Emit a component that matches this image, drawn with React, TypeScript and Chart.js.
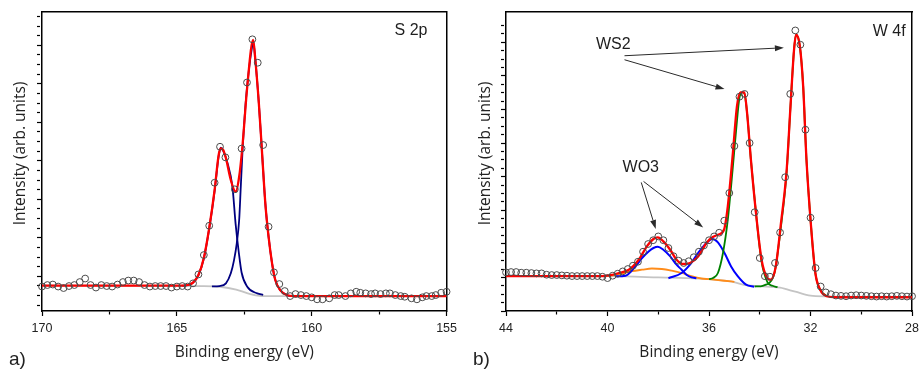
import React, { useEffect, useRef } from 'react';
import { Chart, registerables } from 'chart.js';

Chart.register(...registerables);

// ---------------- Panel a) S 2p ----------------
const aPointE = [170.0,169.8,169.6,169.4,169.2,169.0,168.8,168.6,168.4,168.2,168.0,167.8,167.6,167.4,167.2,167.0,166.8,166.6,166.4,166.2,166.0,165.8,165.6,165.4,165.2,165.0,164.8,164.6,164.4,
  164.2,164.0,163.8,163.6,163.4,163.2,162.85,162.6,162.4,162.2,162.0,161.8,161.6,161.4,161.2,161.0,
  160.8,160.6,160.4,160.2,160.0,159.8,159.6,159.35,159.15,159.0,158.75,158.55,158.35,158.2,158.0,157.8,157.65,157.45,157.25,157.1,156.9,156.7,156.55,156.3,156.1,155.9,155.75,155.55,155.4,155.2,155.0];
const aPointI = [0.735,0.774,0.787,0.735,0.696,0.748,0.774,0.852,0.943,0.774,0.709,0.774,0.748,0.735,0.787,0.852,0.891,0.891,0.852,0.774,0.735,0.748,0.748,0.748,0.709,0.735,0.748,0.735,0.818,
  1.05,1.553,2.314,3.431,4.366,4.09,3.26,4.319,6.034,7.156,6.548,4.41,2.288,1.104,0.8,0.618,
  0.488,0.540,0.514,0.488,0.455,0.403,0.403,0.429,0.514,0.514,0.488,0.558,0.600,0.574,0.558,0.540,0.558,0.540,0.558,0.558,0.514,0.488,0.470,0.429,0.403,0.455,0.488,0.488,0.514,0.574,0.600];

const aFitE = [170.0,164.8,164.6,164.4,164.2,164.0,163.8,163.6,163.45,163.37,163.28,163.18,163.0,162.82,162.69,162.57,162.39,162.17,162.09,161.96,161.84,161.72,161.6,161.47,161.35,161.17,160.93,160.68,155.0];
const aFitI = [0.758,0.758,0.775,0.839,1.034,1.475,2.255,3.242,4.151,4.325,4.28,4.065,3.501,3.197,3.587,4.366,5.927,7.138,6.618,5.494,4.195,2.896,2.029,1.338,0.904,0.644,0.514,0.488,0.488];

const aPeak1E = [164.8,164.6,164.4,164.2,164.0,163.8,163.6,163.45,163.37,163.28,163.12,162.94,162.82,162.7,162.6,162.39,162.02,161.8];
const aPeak1I = [0.758,0.772,0.835,1.03,1.465,2.24,3.22,4.12,4.34,4.26,3.935,3.33,2.35,1.6,1.1,0.73,0.558,0.52];

const aPeak2E = [163.7,163.42,163.18,163.0,162.88,162.78,162.69,162.63,162.57,162.45,162.33,162.21,162.17,162.09,161.96,161.84,161.72,161.6,161.47,161.35,161.17,160.93,160.7];
const aPeak2I = [0.74,0.748,0.818,1.078,1.423,1.85,2.462,3.327,4.195,5.494,6.359,6.964,7.1,6.618,5.494,4.195,2.896,2.029,1.338,0.904,0.644,0.514,0.488];

const aBgE = [170.0,164.0,163.4,162.8,162.4,162.0,161.6,155.0];
const aBgI = [0.757,0.748,0.730,0.657,0.566,0.501,0.488,0.488];

const aXTicks = [170,167.5,165,162.5,160,157.5,155];
const aXMajor = [170,165,160,155];
const aXLabels = ['170','','165','','160','','155'];
const aYTicks = [0.25,0.5,0.75,1,1.25,1.5,1.75,2,2.25,2.5,2.75,3,3.25,3.5,3.75,4,4.25,4.5,4.75,5,5.25,5.5,5.75,6,6.25,6.5,6.75,7,7.25,7.5,7.75];
const aTexts = [{ text: 'S 2p', x: 156.32, y: 7.255 }];

// ---------------- Panel b) W 4f ----------------
const bPointE = [44.0,43.8,43.6,43.4,43.2,43.0,42.8,42.6,42.4,42.2,42.0,41.8,41.6,41.4,41.2,41.0,40.8,40.6,40.4,40.2,
  40.0,39.8,39.6,39.4,39.2,39.0,38.8,38.6,38.4,38.2,38.0,37.8,37.6,37.4,37.2,37.0,36.8,36.6,36.4,36.2,
  36.0,35.8,35.6,35.4,35.2,35.0,34.8,34.6,34.4,34.2,34.0,33.8,33.6,33.4,33.2,33.0,32.8,32.6,32.4,32.2,
  32.0,31.8,31.6,31.4,31.2,31.0,30.8,30.6,30.4,30.2,30.0,29.8,29.6,29.4,29.2,29.0,28.8,28.6,28.4,28.2,28.0];
const bPointI = [1.15,1.16,1.16,1.14,1.14,1.13,1.12,1.12,1.08,1.07,
  1.07,1.06,1.05,1.04,1.04,1.04,1.04,1.04,1.04,1.02,
  0.98,1.05,1.11,1.179,1.25,1.348,1.467,1.765,1.994,2.107,
  2.22,2.107,1.875,1.631,1.497,1.429,1.482,1.601,1.765,1.952,
  2.107,2.22,2.33,2.688,3.512,4.911,6.378,6.461,5.0,2.94,
  1.577,1.036,1.021,1.429,2.336,3.982,6.461,8.351,7.926,5.396,
  2.777,1.28,0.729,0.554,0.5,
  0.46,0.45,0.44,0.46,0.47,0.46,0.45,0.44,0.43,0.44,0.43,0.44,0.45,0.44,0.43,0.44];

const bFitE = [44.0,40.2,39.94,39.55,39.16,38.77,38.45,38.19,38.02,37.8,37.53,37.28,37.01,36.75,36.43,36.1,35.91,35.65,35.41,35.26,35.06,34.9,34.76,34.61,34.5,34.35,34.15,33.93,33.7,33.57,33.37,33.18,32.94,32.79,32.65,32.57,32.42,32.29,32.16,31.98,31.81,31.62,31.36,31.0,28.0];
const bFitI = [1.036,1.036,1.06,1.131,1.229,1.527,1.923,2.143,2.19,2.071,1.824,1.527,1.399,1.429,1.625,2.024,2.173,2.271,2.42,3.113,4.702,6.089,6.506,6.506,5.893,4.503,2.917,1.527,0.982,0.932,1.327,2.518,4.205,6.089,7.777,8.223,7.875,6.685,4.503,2.518,1.131,0.634,0.44,0.41,0.41];

const bWO3aE = [39.7,39.29,38.9,38.64,38.38,38.19,38.02,37.8,37.53,37.28,37.08,36.89,36.69,36.5];
const bWO3aI = [1.03,1.051,1.327,1.577,1.774,1.875,1.914,1.824,1.625,1.378,1.229,1.08,1.0,0.976];

const bWO3bE = [37.6,37.08,36.75,36.43,36.1,35.87,35.65,35.39,35.13,34.87,34.54,34.22];
const bWO3bI = [0.976,1.131,1.378,1.726,2.024,2.143,2.042,1.726,1.327,1.036,0.783,0.72];

const bBroadE = [40.0,39.42,39.03,38.64,38.25,37.86,37.47,37.08,36.69,36.3,36.0,35.4,35.0];
const bBroadI = [1.036,1.11,1.185,1.229,1.265,1.25,1.199,1.131,1.036,0.967,0.946,0.9,0.87];

const bWS2aE = [36.0,35.84,35.65,35.45,35.26,35.07,34.93,34.8,34.68,34.61,34.5,34.35,34.15,33.93,33.7,33.5,33.3];
const bWS2aI = [0.946,0.982,1.131,1.726,2.717,4.205,5.396,6.348,6.506,6.482,5.893,4.503,2.917,1.467,0.86,0.75,0.708];

const bWS2bE = [34.2,33.96,33.76,33.63,33.41,33.18,32.94,32.79,32.65,32.57,32.42,32.29,32.16,31.98,31.81,31.62,31.36];
const bWS2bI = [0.73,0.735,0.783,0.833,1.17,2.42,4.146,6.08,7.777,8.223,7.875,6.685,4.503,2.518,1.131,0.634,0.44];

const bBgE = [44.0,40.0,38.0,36.4,35.1,34.5,34.0,33.2,32.6,32.0,31.4,28.0];
const bBgI = [1.042,1.036,1.0,0.961,0.872,0.762,0.738,0.693,0.574,0.455,0.435,0.42];

const bXTicks = [44,42,40,38,36,34,32,30,28];
const bXMajor = [44,40,36,32,28];
const bXLabels = ['44','','40','','36','','32','','28'];
const bYTicks = [0,0.25,0.5,0.75,1,1.25,1.5,1.75,2,2.25,2.5,2.75,3,3.25,3.5,3.75,4,4.25,4.5,4.75,5,5.25,5.5,5.75,6,6.25,6.5,6.75,7,7.25,7.5,7.75,8,8.25,8.5];
const bTexts = [
  { text: 'W 4f', x: 28.9, y: 8.193 },
  { text: 'WS2', x: 39.77, y: 7.807 },
  { text: 'WO3', x: 38.69, y: 4.131 },
];
const bArrows = [
  { x1: 39.33, y1: 7.598, x2: 33.05, y2: 7.836 },
  { x1: 39.33, y1: 7.479, x2: 35.39, y2: 6.607 },
  { x1: 38.67, y1: 3.827, x2: 38.10, y2: 2.440 },
  { x1: 38.58, y1: 3.857, x2: 36.23, y2: 2.488 },
];

// ---------------- helpers ----------------
const pts = (xs: number[], ys: number[]) => xs.map((x, i) => ({ x, y: ys[i] }));

const line = (label: string, xs: number[], ys: number[], color: string, width: number, order: number) => ({
  label, data: pts(xs, ys), showLine: true, borderColor: color, backgroundColor: color,
  borderWidth: width, pointRadius: 0, pointHoverRadius: 0, cubicInterpolationMode: 'monotone', fill: false, order,
});

const dots = (label: string, xs: number[], ys: number[]) => ({
  label, data: pts(xs, ys), showLine: false, pointRadius: 3.4, pointHoverRadius: 3.4, pointBorderWidth: 1,
  pointBorderColor: '#4a4a4a', pointBackgroundColor: 'rgba(255,255,255,0)', clip: false, order: 0,
});

const makeAnnot = (texts: any[], arrows: any[]) => ({
  id: 'annot',
  afterDatasetsDraw(chart: any) {
    const { ctx } = chart;
    const xs = chart.scales.x;
    const ys = chart.scales.y;
    ctx.save();
    ctx.fillStyle = '#1e1e1e';
    ctx.font = '16px "Liberation Sans", Arial, sans-serif';
    ctx.textAlign = 'center';
    ctx.textBaseline = 'alphabetic';
    texts.forEach((t) => ctx.fillText(t.text, xs.getPixelForValue(t.x), ys.getPixelForValue(t.y)));
    ctx.strokeStyle = '#2a2a2a';
    ctx.fillStyle = '#2a2a2a';
    ctx.lineWidth = 1;
    arrows.forEach((a) => {
      const x1 = xs.getPixelForValue(a.x1), y1 = ys.getPixelForValue(a.y1);
      const x2 = xs.getPixelForValue(a.x2), y2 = ys.getPixelForValue(a.y2);
      const ang = Math.atan2(y2 - y1, x2 - x1);
      const L = 9, W = 3;
      const bx = x2 - L * Math.cos(ang), by = y2 - L * Math.sin(ang);
      ctx.beginPath(); ctx.moveTo(x1, y1); ctx.lineTo(bx, by); ctx.stroke();
      ctx.beginPath();
      ctx.moveTo(x2, y2);
      ctx.lineTo(bx + W * Math.sin(ang), by - W * Math.cos(ang));
      ctx.lineTo(bx - W * Math.sin(ang), by + W * Math.cos(ang));
      ctx.closePath(); ctx.fill();
    });
    ctx.restore();
  },
});

const titleFont = { family: '"Open Sans", "DejaVu Sans", sans-serif', size: 15.5 };
const tickFont = { family: '"Liberation Sans", Arial, sans-serif', size: 12.5 };
const isInt = (v: number) => Math.abs(v - Math.round(v)) < 1e-6;

function buildChart(canvas: HTMLCanvasElement, cfg: any) {
  const frame = (axis: string, position: string) => ({
    type: 'linear', axis, position, display: true,
    grid: { display: true, drawOnChartArea: false, drawTicks: false },
    border: { display: true, color: '#000', width: 1.5 },
    ticks: { display: false },
    afterFit: (s: any) => { if (axis === 'x') s.height = 0; else s.width = 0; },
  });
  return new Chart(canvas, {
    type: 'scatter',
    data: { datasets: cfg.datasets },
    options: {
      animation: false,
      responsive: false,
      maintainAspectRatio: false,
      events: [],
      layout: { autoPadding: false, padding: cfg.padding },
      plugins: { legend: { display: false }, tooltip: { enabled: false } },
      scales: {
        x: {
          type: 'linear', reverse: true, min: cfg.xMin, max: cfg.xMax,
          afterBuildTicks: (s: any) => { s.ticks = cfg.xTicks.map((v: number) => ({ value: v })); },
          afterFit: (s: any) => { s.height = 51; },
          grid: {
            display: true, drawOnChartArea: false, drawTicks: true, tickLength: 5, tickColor: '#000', tickWidth: 1.2,
            tickBorderDash: (c: any) => (c.tick && cfg.xMajor.includes(c.tick.value) ? [] : [3, 10]),
          },
          border: { display: true, color: '#000', width: 1.5 },
          ticks: { autoSkip: false, maxRotation: 0, padding: 5, color: '#222', font: tickFont, callback: (_v: any, i: number) => cfg.xLabels[i] },
          title: { display: true, text: 'Binding energy (eV)', color: '#222', font: titleFont, padding: 0 },
        },
        y: {
          type: 'linear', min: cfg.yMin, max: cfg.yMax,
          afterBuildTicks: (s: any) => { s.ticks = cfg.yTicks.map((v: number) => ({ value: v })); },
          afterFit: (s: any) => { s.width = cfg.yWidth; },
          grid: {
            display: true, drawOnChartArea: false, drawTicks: true, tickLength: 5, tickColor: '#000', tickWidth: 1.2,
            tickBorderDash: (c: any) => (c.tick && isInt(c.tick.value) ? [] : [3, 10]),
          },
          border: { display: true, color: '#000', width: 1.5 },
          ticks: { display: false },
          title: { display: true, text: '    Intensity (arb. units)', color: '#222', font: titleFont, padding: 0 },
        },
        xTop: frame('x', 'top'),
        yRight: frame('y', 'right'),
      },
    } as any,
    plugins: [makeAnnot(cfg.texts, cfg.arrows)],
  });
}

const cfgA = {
  padding: { left: 11, right: 10, top: 12, bottom: 7 },
  yWidth: 31,
  xMin: 155, xMax: 170, yMin: 0.1, yMax: 7.865,
  xTicks: aXTicks, xMajor: aXMajor, xLabels: aXLabels, yTicks: aYTicks,
  texts: aTexts, arrows: [],
  datasets: [
    dots('S 2p data', aPointE, aPointI),
    line('Fit', aFitE, aFitI, '#ff0000', 2.3, 1),
    line('S 2p3/2', aPeak2E, aPeak2I, '#000080', 1.8, 2),
    line('S 2p1/2', aPeak1E, aPeak1I, '#000080', 1.8, 2),
    line('Background', aBgE, aBgI, '#c4c4c4', 1.8, 4),
  ],
};

const cfgB = {
  padding: { left: 14, right: 8, top: 12, bottom: 7 },
  yWidth: 30,
  xMin: 28, xMax: 44, yMin: 0, yMax: 8.9,
  xTicks: bXTicks, xMajor: bXMajor, xLabels: bXLabels, yTicks: bYTicks,
  texts: bTexts, arrows: bArrows,
  datasets: [
    dots('W 4f data', bPointE, bPointI),
    line('Fit', bFitE, bFitI, '#ff0000', 2.3, 1),
    line('WS2 4f7/2', bWS2bE, bWS2bI, '#008000', 1.8, 2),
    line('WS2 4f5/2', bWS2aE, bWS2aI, '#008000', 1.8, 2),
    line('WO3 a', bWO3aE, bWO3aI, '#0000ff', 2, 2),
    line('WO3 b', bWO3bE, bWO3bI, '#0000ff', 2, 2),
    line('Broad', bBroadE, bBroadI, '#ff8c1a', 1.8, 3),
    line('Background', bBgE, bBgI, '#c4c4c4', 1.8, 4),
  ],
};

export default function App() {
  const refA = useRef<HTMLCanvasElement>(null);
  const refB = useRef<HTMLCanvasElement>(null);
  useEffect(() => {
    const ca = buildChart(refA.current as HTMLCanvasElement, cfgA);
    const cb = buildChart(refB.current as HTMLCanvasElement, cfgB);
    return () => { ca.destroy(); cb.destroy(); };
  }, []);
  const lbl: React.CSSProperties = {
    position: 'absolute', top: 348, font: '19px "Liberation Sans", Arial, sans-serif', lineHeight: '22px', color: '#222',
  };
  return (
    <div style={{ position: 'absolute', left: 0, top: 0, width: 924, height: 369, background: '#fff', overflow: 'hidden' }}>
      <canvas ref={refA} width={462} height={369} style={{ position: 'absolute', left: 0, top: 0 }} />
      <canvas ref={refB} width={462} height={369} style={{ position: 'absolute', left: 462, top: 0 }} />
      <div style={{ ...lbl, left: 9 }}>a)</div>
      <div style={{ ...lbl, left: 473 }}>b)</div>
    </div>
  );
}
